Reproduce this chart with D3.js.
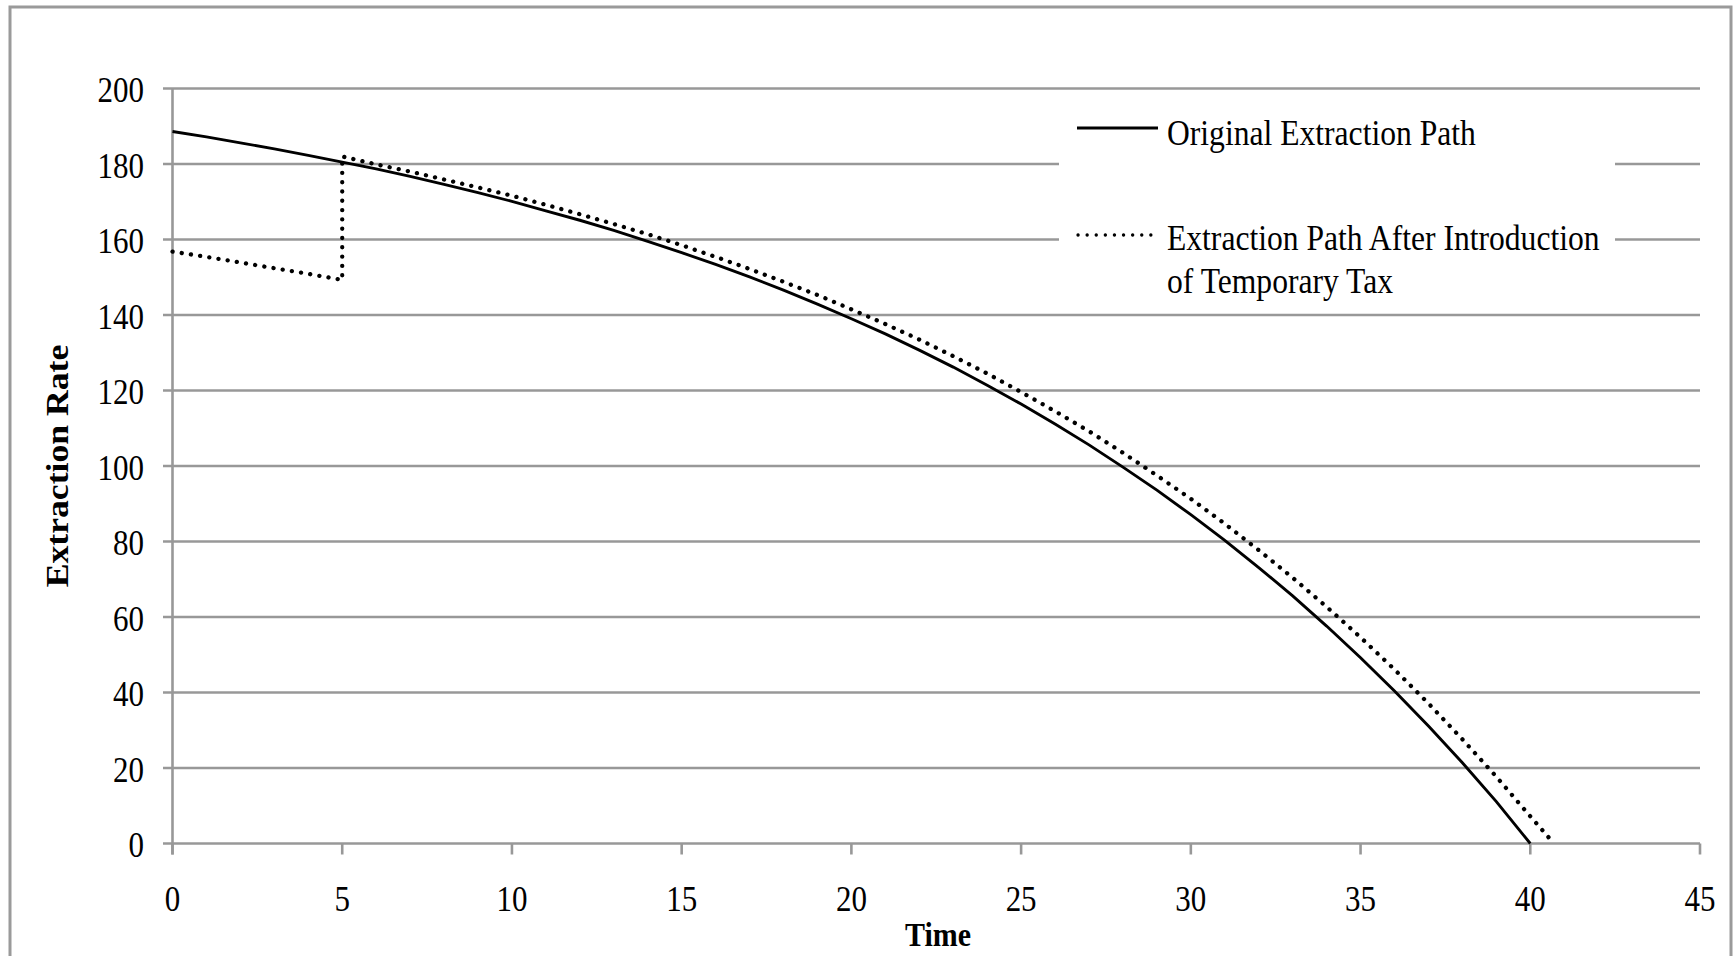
<!DOCTYPE html>
<html><head><meta charset="utf-8">
<script src="https://cdn.jsdelivr.net/npm/d3@7"></script>
<style>body{margin:0;background:#fff}svg{display:block}</style>
</head><body><svg id="c" width="1734" height="956"></svg>
<script>
const xTicks = [0, 5, 10, 15, 20, 25, 30, 35, 40, 45];
const yTicks = [0, 20, 40, 60, 80, 100, 120, 140, 160, 180, 200];

const originalTime = [0,1,2,3,4,5,6,7,8,9,10,11,12,13,14,15,16,17,18,19,20,21,22,23,24,25,26,27,28,29,30,31,32,33,34,35,36,37,38,39,40];
const originalRate = [188.6,187.2,185.6,184.0,182.3,180.5,178.7,176.7,174.6,172.4,170.1,167.6,165.1,162.4,159.5,156.5,153.4,150.1,146.6,142.9,139.0,135.0,130.7,126.2,121.4,116.4,111.1,105.6,99.7,93.6,87.1,80.3,73.1,65.6,57.6,49.2,40.4,31.1,21.4,11.1,0];

const taxTime = [0,1,2,3,4,5,5,6,7,8,9,10,11,12,13,14,15,16,17,18,19,20,21,22,23,24,25,26,27,28,29,30,31,32,33,34,35,36,37,38,39,40,40.6];
const taxRate = [156.8,155.4,153.9,152.4,150.9,149.3,182.0,179.9,178.0,175.9,173.8,171.6,169.2,166.7,164.1,161.4,158.5,155.4,152.2,148.8,145.3,141.5,137.6,133.5,129.1,124.5,119.6,114.5,109.2,103.5,97.5,91.3,84.7,77.7,70.4,62.7,54.6,46.1,37.1,27.6,17.7,7.2,1.0];

const legendLabels = ["Original Extraction Path", "Extraction Path After Introduction", "of Temporary Tax"];
const xTitle = "Time";
const yTitle = "Extraction Rate";

const svg = d3.select("#c");
const FONT = "'Liberation Serif','Times New Roman',serif";
const SY = 1.15;
const grid = "#989898";

const x = d3.scaleLinear().domain([0, 45]).range([172.5, 1700]);
const y = d3.scaleLinear().domain([0, 200]).range([843.5, 88.5]);

// outer frame
svg.append("rect").attr("x", 10).attr("y", 7).attr("width", 1721).attr("height", 990)
  .attr("fill", "#fff").attr("stroke", "#9a9a9a").attr("stroke-width", 3);

// horizontal gridlines (incl. left tick stubs)
svg.append("g").selectAll("line").data(yTicks).join("line")
  .attr("x1", 163).attr("x2", x(45))
  .attr("y1", d => y(d)).attr("y2", d => y(d))
  .attr("stroke", grid).attr("stroke-width", 2.6);

// y axis line
svg.append("line").attr("x1", x(0)).attr("x2", x(0)).attr("y1", y(200)).attr("y2", y(0) + 11)
  .attr("stroke", grid).attr("stroke-width", 2.6);

// x ticks
svg.append("g").selectAll("line").data(xTicks).join("line")
  .attr("x1", d => x(d)).attr("x2", d => x(d)).attr("y1", y(0)).attr("y2", y(0) + 11)
  .attr("stroke", grid).attr("stroke-width", 2.6);

function txt(g, str, tx, ty, anchor, size, weight) {
  return g.append("g").attr("transform", `translate(${tx},${ty}) scale(1,${SY})`)
    .append("text").attr("text-anchor", anchor).attr("font-family", FONT)
    .attr("font-size", size).attr("font-weight", weight || "normal").attr("fill", "#000").text(str);
}

// y tick labels
const yl = svg.append("g");
yTicks.forEach(d => txt(yl, d, 144, y(d) + 13.5, "end", 31));
// x tick labels
const xl = svg.append("g");
xTicks.forEach(d => txt(xl, d, x(d), 911, "middle", 31));

// titles
txt(svg, xTitle, 938, 946, "middle", 30, "bold");
svg.append("g").attr("transform", `translate(68,466) rotate(-90) scale(${SY},1)`)
  .append("text").attr("text-anchor", "middle").attr("font-family", FONT)
  .attr("font-size", 31).attr("font-weight", "bold").text(yTitle);

// legend background
svg.append("rect").attr("x", 1059).attr("y", 97).attr("width", 556).attr("height", 207).attr("fill", "#fff");

// lines
const line = d3.line().x(d => x(d[0])).y(d => y(d[1]));
svg.append("path").datum(originalTime.map((t, i) => [t, originalRate[i]]))
  .attr("d", line).attr("fill", "none").attr("stroke", "#000").attr("stroke-width", 2.9);
svg.append("path").datum(taxTime.map((t, i) => [t, taxRate[i]]))
  .attr("d", line).attr("fill", "none").attr("stroke", "#000").attr("stroke-width", 4.3)
  .attr("stroke-linecap", "round").attr("stroke-dasharray", "0.1 9.2");

// legend
svg.append("line").attr("x1", 1077).attr("x2", 1158).attr("y1", 128).attr("y2", 128)
  .attr("stroke", "#000").attr("stroke-width", 3.2);
svg.append("line").attr("x1", 1078).attr("x2", 1158).attr("y1", 235).attr("y2", 235)
  .attr("stroke", "#000").attr("stroke-width", 3.3).attr("stroke-linecap", "round").attr("stroke-dasharray", "0.1 9");
txt(svg, legendLabels[0], 1167, 145, "start", 31.6);
txt(svg, legendLabels[1], 1167, 250, "start", 31.6);
txt(svg, legendLabels[2], 1167, 293, "start", 31.6);
</script>
</body></html>
